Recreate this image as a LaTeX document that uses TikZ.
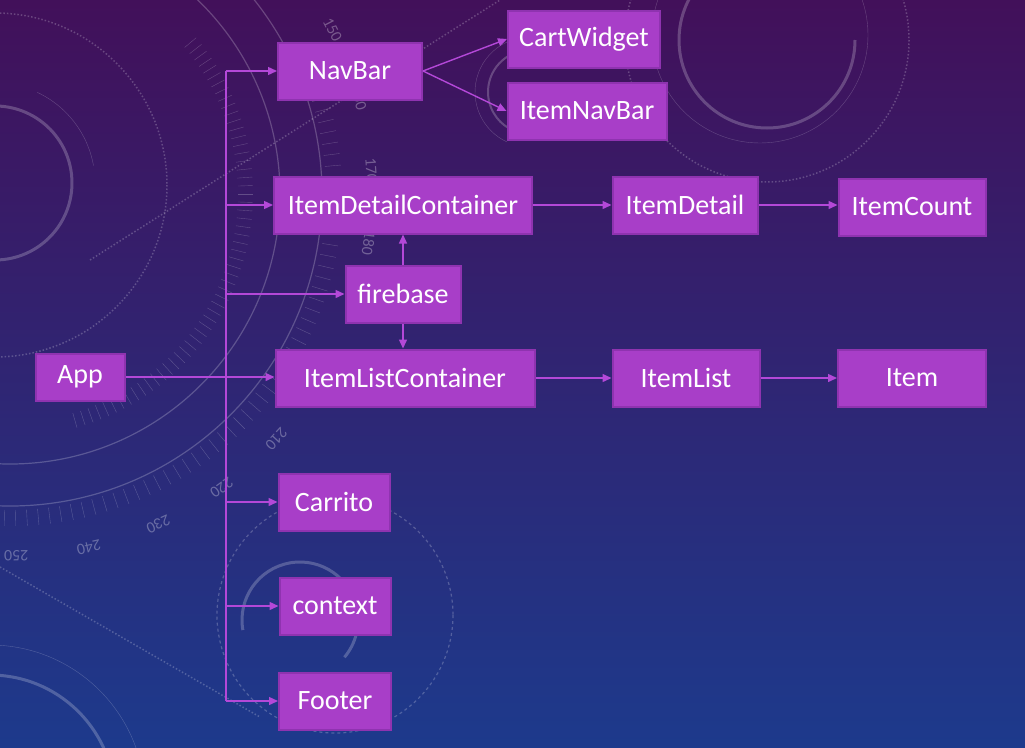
\documentclass[tikz,border=0pt]{standalone}
\usepackage{fontspec}
\setmainfont{Carlito}
\usetikzlibrary{arrows.meta}
\definecolor{boxfill}{HTML}{A83EC8}
\definecolor{boxline}{HTML}{8F33B0}
\definecolor{linkcol}{HTML}{B448D8}
\definecolor{bgtop}{HTML}{42105A}
\definecolor{bgmid}{HTML}{35206E}
\definecolor{bgbot}{HTML}{1D3A8C}
\tikzset{
  comp/.style={fill=boxfill, draw=boxline, line width=2pt, text=white, minimum height=57, inner sep=0pt, font=\fontsize{28}{32}\selectfont},
  link/.style={draw=linkcol, line width=1.4pt, -{Triangle[length=9pt,width=8pt]}},
  deco/.style={draw=white, opacity=0.22},
  dialnum/.style={text=white, text opacity=0.3, font=\fontsize{16}{16}\selectfont},
}
\begin{document}
\begin{tikzpicture}[x=1pt, y=-1pt]
    \useasboundingbox (0,0) rectangle (1025,747);
    \shade[top color=bgtop, middle color=bgmid, bottom color=bgbot] (0,0) rectangle (1025,747);

    % background dials
    \begin{scope}
        \clip (0,0) rectangle (1025,747);
        \draw[deco, line width=1.2pt] (10,194) circle (270);
        \draw[deco, line width=1.2pt] (10,194) circle (312);
        \foreach \t in {-40,-38,...,75}
            \draw[deco] ([shift={(10,194)}]\t:228) -- ([shift={(10,194)}]\t:243);
        \foreach \t in {-25,-23,...,100}
            \draw[deco] ([shift={(10,194)}]\t:316) -- ([shift={(10,194)}]\t:332);
        \foreach \n [evaluate=\n as \t using -27+1.16*(\n-150)] in {150,160,170,180,210,220,230,240,250}
            \node[dialnum, rotate={-(\t)-90}] at ([shift={(10,194)}]\t:362) {\n};

        \draw[deco, line width=3pt] (-5,183) ++(-100:77) arc (-100:100:77);
        \draw[deco] (-5,183) ++(-65:100) arc (-65:-10:100);
        \draw[deco, dotted, line width=1.5pt] (-5,185) circle (172);
        \draw[deco, dotted, line width=1.5pt] (90,260) -- (500,0);
        \draw[deco, line width=3pt] (767,40) ++(0:88) arc (0:270:88);
        \draw[deco] (760,35) circle (108);
        \draw[deco, dotted, line width=1.5pt] (767,40) circle (142);
        \draw[deco, line width=2pt] (530,92) ++(-120:42) arc (-120:-240:42);
        \draw[deco] (530,92) ++(-115:55) arc (-115:-245:55);
        \draw[deco, line width=3pt] (300,620) ++(-190:58) arc (-190:40:58);
        \draw[deco, dashed, line width=1.2pt] (335,615) circle (118);
        \draw[deco, line width=3pt] (-10,800) ++(-90:125) arc (-90:0:125);
        \draw[deco] (-10,800) ++(-90:155) arc (-90:0:155);
        \draw[deco, dotted, line width=1.5pt] (0,567) -- (260,717);
    \end{scope}

    % components
    \node[comp, minimum width=89, minimum height=47] (App) at (80,377) {App};
    \node[comp, minimum width=144] (NavBar) at (350,71) {NavBar};
    \node[comp, minimum width=152] (CartWidget) at (584,39) {CartWidget};
    \node[comp, minimum width=159] (ItemNavBar) at (587,111) {ItemNavBar};
    \node[comp, minimum width=258] (ItemDetailContainer) at (403,205) {ItemDetailContainer};
    \node[comp, minimum width=145] (ItemDetail) at (685,205) {ItemDetail};
    \node[comp, minimum width=147] (ItemCount) at (912,207) {ItemCount};
    \node[comp, minimum width=115] (firebase) at (403,294) {firebase};
    \node[comp, minimum width=259] (ItemListContainer) at (405,378) {ItemListContainer};
    \node[comp, minimum width=147] (ItemList) at (686,378) {ItemList};
    \node[comp, minimum width=148] (Item) at (912,378) {Item};
    \node[comp, minimum width=111] (Carrito) at (334,502) {Carrito};
    \node[comp, minimum width=111] (context) at (335,606) {context};
    \node[comp, minimum width=112] (Footer) at (335,701) {Footer};

    % links
    \coordinate (trunk) at (226,0);
    \draw[link, -] (trunk |- NavBar) -- (trunk |- Footer);
    \foreach \n in {NavBar,ItemDetailContainer,firebase,Carrito,context,Footer}
        \draw[link] (trunk |- \n) -- (\n);
    \draw[link] (App) -- (App -| ItemListContainer.west);
    \draw[link] (NavBar.east) -- (CartWidget.west);
    \draw[link] (NavBar.east) -- (ItemNavBar.west);
    \draw[link] (firebase) -- (ItemDetailContainer);
    \draw[link] (firebase.south) -- (firebase.south |- ItemListContainer.north);
    \draw[link] (ItemDetailContainer) -- (ItemDetail);
    \draw[link] (ItemDetail) -- (ItemDetail -| ItemCount.west);
    \draw[link] (ItemListContainer) -- (ItemList);
    \draw[link] (ItemList) -- (Item);
\end{tikzpicture}
\end{document}
